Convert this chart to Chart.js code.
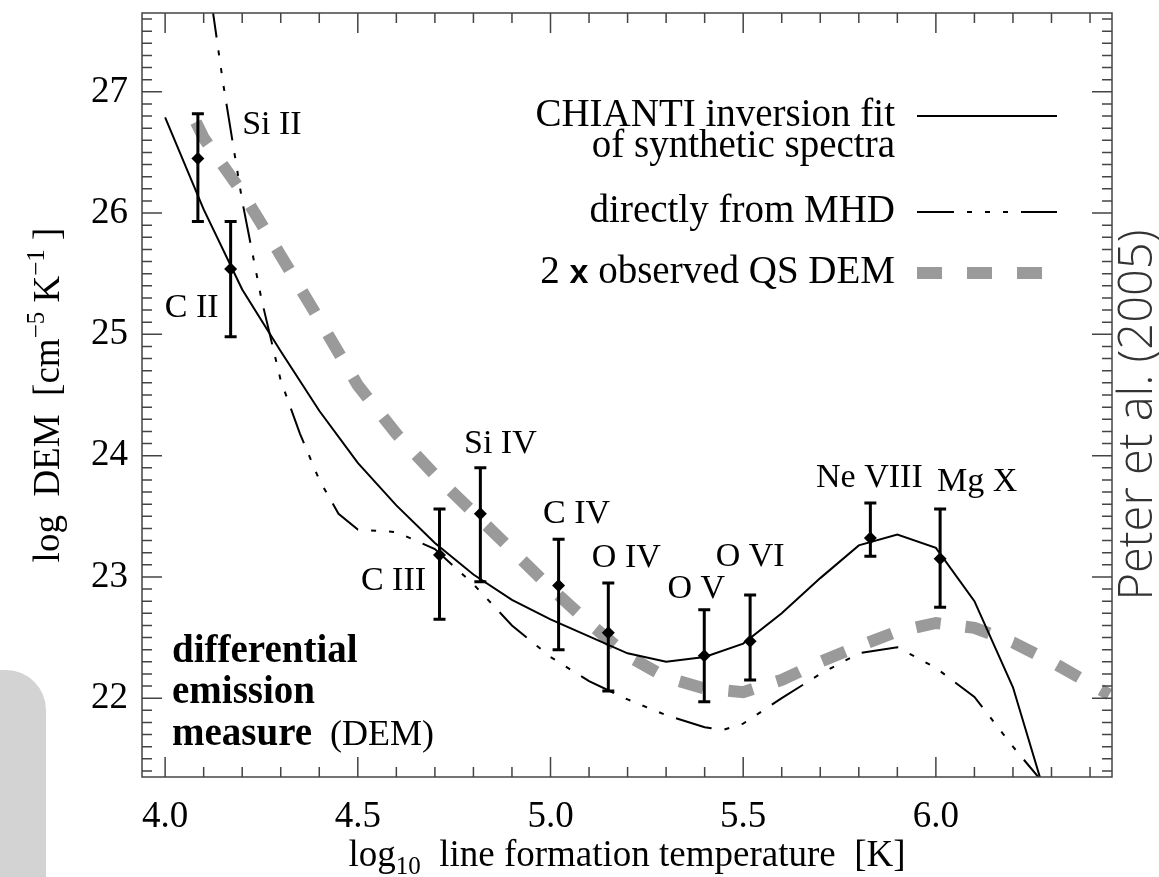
<!DOCTYPE html>
<html>
<head>
<meta charset="utf-8">
<title>DEM</title>
<script src="https://cdn.jsdelivr.net/npm/chart.js@4.4.1/dist/chart.umd.min.js"></script>
<style>
  html, body { margin: 0; padding: 0; background: #fff; }
  #wrap { width: 1159px; height: 877px; }
</style>
</head>
<body>
<div id="wrap"><canvas id="chartDEM" width="1159" height="877"></canvas></div>
<script>
const SERIF = "'Liberation Serif', 'Times New Roman', serif";

// CHIANTI inversion fit of synthetic spectra
const fitT = [4.0, 4.1, 4.2, 4.3, 4.4, 4.5, 4.6, 4.7, 4.8, 4.9, 5.0, 5.1, 5.2, 5.3, 5.4, 5.5, 5.6, 5.7, 5.8, 5.9, 6.0, 6.1, 6.2, 6.3];
const fitDEM = [26.79, 26.03, 25.37, 24.86, 24.37, 23.94, 23.59, 23.28, 23.02, 22.81, 22.65, 22.51, 22.37, 22.30, 22.34, 22.45, 22.70, 22.99, 23.26, 23.35, 23.24, 22.80, 22.09, 21.03];

// DEM directly from the MHD model
const mhdT = [4.12, 4.15, 4.2, 4.25, 4.3, 4.35, 4.4, 4.45, 4.5, 4.6, 4.7, 4.8, 4.9, 5.0, 5.1, 5.2, 5.3, 5.4, 5.45, 5.5, 5.6, 5.7, 5.8, 5.9, 6.0, 6.1, 6.2, 6.3];
const mhdDEM = [27.75, 27.08, 26.10, 25.29, 24.62, 24.18, 23.80, 23.52, 23.39, 23.37, 23.23, 22.94, 22.60, 22.34, 22.14, 21.99, 21.86, 21.76, 21.74, 21.79, 22.00, 22.20, 22.37, 22.42, 22.25, 22.01, 21.60, 21.22];

// 2 x observed quiet Sun DEM
const qsT = [4.08, 4.1, 4.2, 4.3, 4.4, 4.5, 4.6, 4.7, 4.8, 4.9, 5.0, 5.1, 5.2, 5.3, 5.4, 5.5, 5.6, 5.7, 5.8, 5.9, 6.0, 6.1, 6.2, 6.3, 6.4, 6.45];
const qsDEM = [26.75, 26.62, 26.17, 25.65, 25.12, 24.58, 24.18, 23.84, 23.53, 23.22, 22.91, 22.62, 22.35, 22.17, 22.08, 22.05, 22.15, 22.30, 22.43, 22.55, 22.62, 22.58, 22.46, 22.30, 22.12, 22.03];

// single lines with error bars
const ions = ['Si II', 'C II', 'C III', 'Si IV', 'C IV', 'O IV', 'O V', 'O VI', 'Ne VIII', 'Mg X'];
const ionT = [4.085, 4.17, 4.712, 4.818, 5.021, 5.15, 5.399, 5.518, 5.83, 6.011];
const ionDEM = [26.45, 25.54, 23.18, 23.52, 22.93, 22.54, 22.35, 22.47, 23.32, 23.15];
const ionLow = [25.93, 24.98, 22.65, 22.96, 22.40, 22.06, 21.97, 22.15, 23.17, 22.75];
const ionHigh = [26.82, 25.93, 23.56, 23.90, 23.31, 22.95, 22.73, 22.85, 23.61, 23.56];

const xTicks = [4.0, 4.5, 5.0, 5.5, 6.0];
const yTicks = [22, 23, 24, 25, 26, 27];

// where each ion name sits, relative to its diamond (px)
const ionLabelOffset = [[74, -25], [-39, 48], [-46, 35], [20, -61], [18, -62], [18, -66], [-8, -58], [0, -75], [-1, -51], [37, -68]];

const toXY = (xs, ys) => xs.map((x, i) => ({ x, y: ys[i] }));

// draws text made of runs, e.g. superscripts / subscripts / other fonts
function drawRuns(ctx, runs, x, y, align) {
  let total = 0;
  runs.forEach(r => { ctx.font = r.font; total += ctx.measureText(r.t).width; });
  let cx = align === 'center' ? x - total / 2 : align === 'right' ? x - total : x;
  ctx.textAlign = 'left';
  runs.forEach(r => {
    ctx.font = r.font;
    ctx.fillText(r.t, cx, y + (r.dy || 0));
    cx += ctx.measureText(r.t).width;
  });
}

// no extra room for half tick labels at the ends of the axes
function fixAxis(s, size) {
  if (s.isHorizontal()) s.height = size; else s.width = size;
  s.paddingTop = s.paddingBottom = s.paddingLeft = s.paddingRight = 0;
}

const errorBars = {
  id: 'errorBars',
  beforeDatasetDraw(chart, args) {
    if (args.index !== 0) return;
    const { ctx, scales: { x, y } } = chart;
    ctx.save();
    ctx.strokeStyle = '#000';
    ctx.lineWidth = 3;
    ionT.forEach((t, i) => {
      const px = x.getPixelForValue(t);
      const top = y.getPixelForValue(ionHigh[i]);
      const bot = y.getPixelForValue(ionLow[i]);
      ctx.beginPath();
      ctx.moveTo(px, top); ctx.lineTo(px, bot);
      ctx.moveTo(px - 6, top); ctx.lineTo(px + 6, top);
      ctx.moveTo(px - 6, bot); ctx.lineTo(px + 6, bot);
      ctx.stroke();
    });
    ctx.restore();
  }
};

// box around the plot with inward ticks on all four sides
const axisFrame = {
  id: 'axisFrame',
  afterDatasetsDraw(chart) {
    const { ctx, chartArea: a, scales: { x, y } } = chart;
    ctx.save();
    ctx.strokeStyle = '#444';
    ctx.lineWidth = 1.5;
    ctx.strokeRect(a.left, a.top, a.right - a.left, a.bottom - a.top);
    ctx.beginPath();
    for (let v = 40; v <= 64; v++) {
      const px = x.getPixelForValue(v / 10);
      const len = v % 5 === 0 ? 20 : 10;
      ctx.moveTo(px, a.bottom); ctx.lineTo(px, a.bottom - len);
      ctx.moveTo(px, a.top); ctx.lineTo(px, a.top + len);
    }
    for (let v = 214; v <= 276; v++) {
      const py = y.getPixelForValue(v / 10);
      const len = v % 10 === 0 ? 20 : 10;
      ctx.moveTo(a.left, py); ctx.lineTo(a.left + len, py);
      ctx.moveTo(a.right, py); ctx.lineTo(a.right - len, py);
    }
    ctx.stroke();
    ctx.restore();
  }
};

const annotations = {
  id: 'annotations',
  beforeDraw(chart) {
    const { ctx } = chart;
    // grey tab at the lower left edge
    ctx.save();
    ctx.fillStyle = '#d3d3d3';
    ctx.beginPath();
    ctx.roundRect(-60, 670, 106, 260, 40);
    ctx.fill();
    ctx.restore();
  },
  afterDraw(chart) {
    const { ctx, chartArea: a, scales: { x, y } } = chart;
    ctx.save();
    ctx.fillStyle = '#000';
    ctx.textBaseline = 'alphabetic';

    // ion names
    ctx.font = `34px ${SERIF}`;
    ctx.textAlign = 'center';
    ions.forEach((name, i) => {
      const px = x.getPixelForValue(ionT[i]) + ionLabelOffset[i][0];
      const py = y.getPixelForValue(ionDEM[i]) + ionLabelOffset[i][1];
      ctx.fillText(name, px, py);
    });

    // legend: text on the left, line sample on the right
    const big = `39px ${SERIF}`;
    const legend = [
      { ds: 1, lines: [[{ t: 'CHIANTI inversion fit', font: big }], [{ t: 'of synthetic spectra', font: big }]], base: 113 },
      { ds: 2, lines: [[{ t: 'directly from MHD', font: big }]], base: 209 },
      { ds: 3, lines: [[{ t: '2 ', font: big }, { t: 'x', font: "bold 34px 'Liberation Sans', Arial, sans-serif" }, { t: ' observed QS DEM', font: big }]], base: 270 }
    ];
    legend.forEach(entry => {
      const ds = chart.data.datasets[entry.ds];
      entry.lines.forEach((runs, k) => drawRuns(ctx, runs, a.right - 217, a.top + entry.base + k * 31, 'right'));
      const ly = a.top + entry.base - 10;
      ctx.save();
      ctx.strokeStyle = ds.borderColor;
      ctx.lineWidth = ds.borderWidth;
      ctx.setLineDash(ds.borderDash || []);
      ctx.beginPath();
      ctx.moveTo(a.right - 195, ly);
      ctx.lineTo(a.right - 55, ly);
      ctx.stroke();
      ctx.restore();
    });

    // caption in the lower left corner
    const bold = `bold 39px ${SERIF}`;
    drawRuns(ctx, [{ t: 'differential', font: bold }], a.left + 30, a.bottom - 115, 'left');
    drawRuns(ctx, [{ t: 'emission', font: bold }], a.left + 30, a.bottom - 74, 'left');
    drawRuns(ctx, [{ t: 'measure', font: bold }, { t: '  (DEM)', font: `36px ${SERIF}` }], a.left + 30, a.bottom - 32, 'left');

    // axis titles
    const tf = `37px ${SERIF}`, sf = `25px ${SERIF}`;
    drawRuns(ctx, [
      { t: 'log', font: tf }, { t: '10', font: sf, dy: 8 },
      { t: '  line formation temperature  [K]', font: tf }
    ], (a.left + a.right) / 2, 866, 'center');

    ctx.save();
    ctx.translate(59, (a.top + a.bottom) / 2);
    ctx.rotate(-Math.PI / 2);
    drawRuns(ctx, [
      { t: 'log  DEM  [cm', font: tf }, { t: '\u22125', font: sf, dy: -15 },
      { t: ' K', font: tf }, { t: '\u22121', font: sf, dy: -15 }, { t: ' ]', font: tf }
    ], 0, 0, 'center');
    ctx.restore();

    // source note on the right margin
    ctx.save();
    ctx.translate(1152, 415);
    ctx.rotate(-Math.PI / 2);
    ctx.fillStyle = '#333';
    ctx.font = "300 47px 'Open Sans', 'Noto Sans', sans-serif";
    ctx.textAlign = 'center';
    ctx.fillText('Peter et al. (2005)', 0, 0);
    ctx.restore();

    ctx.restore();
  }
};

new Chart(document.getElementById('chartDEM'), {
  type: 'scatter',
  data: {
    datasets: [
      {
        label: 'lines',
        data: toXY(ionT, ionDEM),
        pointStyle: 'rectRot',
        pointRadius: 6.5,
        backgroundColor: '#000',
        borderWidth: 0
      },
      {
        label: 'CHIANTI inversion fit of synthetic spectra',
        data: toXY(fitT, fitDEM),
        showLine: true,
        borderColor: '#000',
        borderWidth: 2,
        pointRadius: 0,
        tension: 0,
        clip: 0
      },
      {
        label: 'directly from MHD',
        data: toXY(mhdT, mhdDEM),
        showLine: true,
        borderColor: '#000',
        borderWidth: 2,
        borderDash: [37, 13, 5, 13, 5, 13, 5, 13],
        pointRadius: 0,
        tension: 0,
        clip: 0
      },
      {
        label: '2 x observed QS DEM',
        data: toXY(qsT, qsDEM),
        showLine: true,
        borderColor: '#9a9a9a',
        borderWidth: 12,
        borderDash: [25, 25],
        borderCapStyle: 'butt',
        pointRadius: 0,
        tension: 0,
        clip: 0
      }
    ]
  },
  options: {
    responsive: false,
    animation: false,
    events: [],
    layout: { padding: { left: 0, top: 13, right: 47, bottom: 0 } },
    plugins: {
      legend: { display: false },
      tooltip: { enabled: false }
    },
    scales: {
      x: {
        type: 'linear',
        min: 3.94,
        max: 6.457,
        grid: { display: false, drawTicks: false },
        border: { display: false },
        ticks: {
          color: '#000',
          font: { family: SERIF, size: 37 },
          padding: 18,
          maxRotation: 0,
          autoSkip: false,
          callback: v => v.toFixed(1)
        },
        afterBuildTicks: s => { s.ticks = xTicks.map(v => ({ value: v })); },
        afterFit: s => fixAxis(s, 100)
      },
      y: {
        type: 'linear',
        min: 21.35,
        max: 27.65,
        grid: { display: false, drawTicks: false },
        border: { display: false },
        ticks: {
          color: '#000',
          font: { family: SERIF, size: 37 },
          padding: 14,
          autoSkip: false,
          callback: v => String(v)
        },
        afterBuildTicks: s => { s.ticks = yTicks.map(v => ({ value: v })); },
        afterFit: s => fixAxis(s, 142)
      }
    }
  },
  plugins: [errorBars, axisFrame, annotations]
});
</script>
</body>
</html>
